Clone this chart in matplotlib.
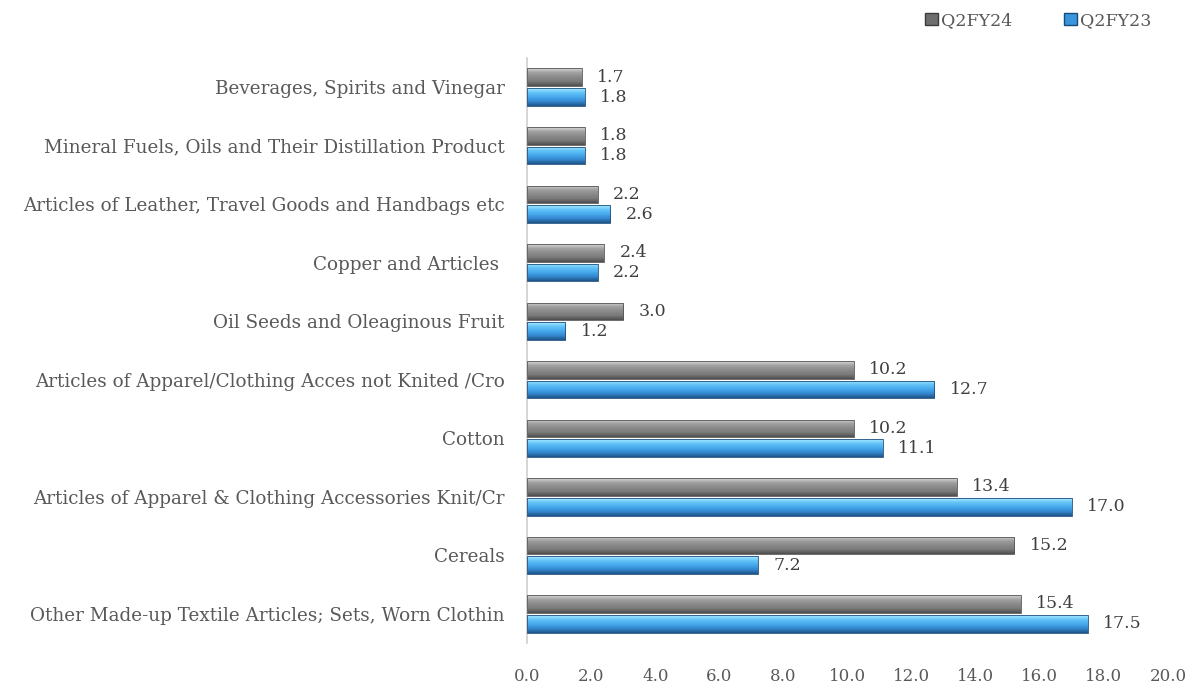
import matplotlib.pyplot as plt
import numpy as np
from matplotlib.patches import Rectangle

categories = [
    "Beverages, Spirits and Vinegar",
    "Mineral Fuels, Oils and Their Distillation Product",
    "Articles of Leather, Travel Goods and Handbags etc",
    "Copper and Articles ",
    "Oil Seeds and Oleaginous Fruit",
    "Articles of Apparel/Clothing Acces not Knited /Cro",
    "Cotton",
    "Articles of Apparel & Clothing Accessories Knit/Cr",
    "Cereals",
    "Other Made-up Textile Articles; Sets, Worn Clothin",
]
q2fy24 = [1.7, 1.8, 2.2, 2.4, 3.0, 10.2, 10.2, 13.4, 15.2, 15.4]
q2fy23 = [1.8, 1.8, 2.6, 2.2, 1.2, 12.7, 11.1, 17.0, 7.2, 17.5]
xticks = [0, 2, 4, 6, 8, 10, 12, 14, 16, 18, 20]

FONT = ["DejaVu Serif"]
TXT = "#595959"

# top -> bottom of each bar
GRAY_GRAD = ["#d8d8d8", "#a0a0a0", "#8a8a8a", "#7a7a7a", "#4e4e4e"]
BLUE_GRAD = ["#a8e8ff", "#62c4f8", "#47a8ec", "#3488d0", "#1d5486"]


def shade(ax, bars, colors, edge):
    cmap = plt.matplotlib.colors.LinearSegmentedColormap.from_list("g", colors)
    grad = np.linspace(0, 1, 64).reshape(-1, 1)
    for b in bars:
        x0, y0 = b.get_x(), b.get_y()
        w, h = b.get_width(), b.get_height()
        b.set_facecolor("none")
        # y axis is inverted: y0 is the top edge on screen
        im = ax.imshow(grad, cmap=cmap, extent=[x0, x0 + w, y0 + h, y0],
                       aspect="auto", origin="upper", zorder=2)
        im.set_clip_path(b)
        b.set_edgecolor(edge)
        b.set_linewidth(0.6)
        b.set_zorder(3)


def main():
    fig = plt.figure(figsize=(11.97, 6.9), dpi=100, facecolor="white")
    ax = fig.add_axes([0.4403, 0.068, 0.5355, 0.848])

    y = np.arange(len(categories))
    h = 0.30
    b24 = ax.barh(y - h / 2 - 0.02, q2fy24, height=h)
    b23 = ax.barh(y + h / 2 + 0.02, q2fy23, height=h)
    shade(ax, b24, GRAY_GRAD, "#555555")
    shade(ax, b23, BLUE_GRAD, "#1f4f7c")

    for yy, v in zip(y, q2fy24):
        ax.text(v + 0.48, yy - h / 2 - 0.02, f"{v:.1f}", va="center", ha="left",
                fontsize=12.5, color="#404040", family=FONT)
    for yy, v in zip(y, q2fy23):
        ax.text(v + 0.48, yy + h / 2 + 0.02, f"{v:.1f}", va="center", ha="left",
                fontsize=12.5, color="#404040", family=FONT)

    ax.set_xlim(0, 20)
    ax.set_ylim(len(categories) - 0.5, -0.5)
    ax.set_xticks(xticks)
    ax.set_xticklabels([f"{t:.1f}" for t in xticks], family=FONT, fontsize=12, color=TXT)
    ax.set_yticks(y)
    ax.set_yticklabels(categories, family=FONT, fontsize=13.2, color=TXT)
    ax.tick_params(axis="both", length=0)
    ax.tick_params(axis="x", pad=18)
    ax.tick_params(axis="y", pad=16)
    for s in ["top", "right", "bottom"]:
        ax.spines[s].set_visible(False)
    ax.spines["left"].set_color("#d0d0d0")
    ax.spines["left"].set_linewidth(1.2)

    # legend
    handles = [Rectangle((0, 0), 1, 1, facecolor="#6e6e6e", edgecolor="#3c3c3c"),
               Rectangle((0, 0), 1, 1, facecolor="#3a96dc", edgecolor="#1a4a78")]
    fig.legend(handles, ["Q2FY24", "Q2FY23"], loc="upper right", ncol=2,
               bbox_to_anchor=(0.975, 1.005), frameon=False,
               prop={"family": FONT, "size": 12.5}, labelcolor=TXT,
               handlelength=0.7, handleheight=0.7, handletextpad=0.2,
               columnspacing=3.0)

    fig.savefig("out.png", dpi=100)


if __name__ == "__main__":
    main()
